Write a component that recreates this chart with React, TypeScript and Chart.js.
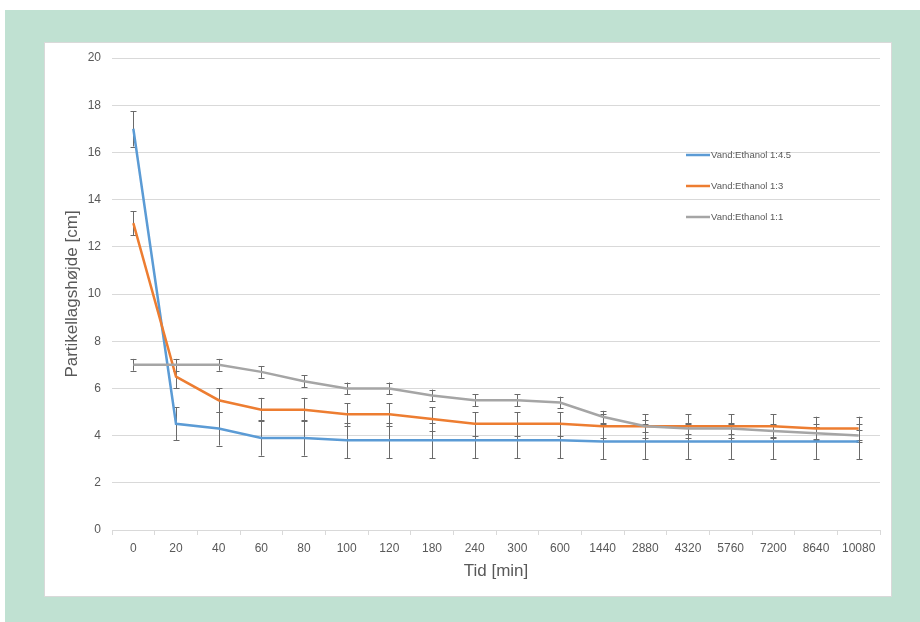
import { useEffect, useRef } from "react";
import { Chart, registerables } from "chart.js";

Chart.register(...registerables);

const categories = ["0", "20", "40", "60", "80", "100", "120", "180", "240", "300", "600", "1440", "2880", "4320", "5760", "7200", "8640", "10080"];

const labelA = "Vand:Ethanol 1:4.5";
const labelB = "Vand:Ethanol 1:3";
const labelC = "Vand:Ethanol 1:1";

const valuesA = [17.0, 4.5, 4.3, 3.9, 3.9, 3.8, 3.8, 3.8, 3.8, 3.8, 3.8, 3.75, 3.75, 3.75, 3.75, 3.75, 3.75, 3.75];
const valuesB = [13.0, 6.5, 5.5, 5.1, 5.1, 4.9, 4.9, 4.7, 4.5, 4.5, 4.5, 4.4, 4.4, 4.4, 4.4, 4.4, 4.3, 4.3];
const valuesC = [7.0, 7.0, 7.0, 6.7, 6.3, 6.0, 6.0, 5.7, 5.5, 5.5, 5.4, 4.8, 4.4, 4.3, 4.3, 4.2, 4.1, 4.0];

const errorsA = [0.75, 0.7, 0.72, 0.75, 0.75, 0.75, 0.75, 0.75, 0.75, 0.75, 0.75, 0.75, 0.75, 0.75, 0.75, 0.75, 0.75, 0.75];
const errorsB = [0.5, 0.5, 0.5, 0.5, 0.5, 0.48, 0.48, 0.5, 0.5, 0.5, 0.5, 0.5, 0.5, 0.5, 0.5, 0.5, 0.5, 0.5];
const errorsC = [0.25, 0.25, 0.25, 0.25, 0.25, 0.25, 0.25, 0.25, 0.25, 0.25, 0.25, 0.25, 0.25, 0.25, 0.25, 0.25, 0.25, 0.25];

const yTicks = [0, 2, 4, 6, 8, 10, 12, 14, 16, 18, 20];

const colorA = "#5b9bd5";
const colorB = "#ed7d31";
const colorC = "#a5a5a5";
const textColor = "#595959";
const gridColor = "#d9d9d9";
const FONT = "'Liberation Sans', Arial, sans-serif";

const errorBarPlugin = {
  id: "errorBars",
  beforeDatasetsDraw(chart: any) {
    const ctx = chart.ctx;
    const xs = chart.scales.x;
    const ys = chart.scales.y;
    ctx.save();
    ctx.strokeStyle = "#6a6a6a";
    ctx.lineWidth = 1;
    chart.data.datasets.forEach((ds: any) => {
      const errs: number[] = ds.errors || [];
      ds.data.forEach((v: number, i: number) => {
        const e = errs[i];
        if (e == null) return;
        const x = Math.round(xs.getPixelForValue(i)) + 0.5;
        const y1 = ys.getPixelForValue(v + e);
        const y2 = ys.getPixelForValue(v - e);
        ctx.beginPath();
        ctx.moveTo(x, y1);
        ctx.lineTo(x, y2);
        ctx.moveTo(x - 3, Math.round(y1) + 0.5);
        ctx.lineTo(x + 3, Math.round(y1) + 0.5);
        ctx.moveTo(x - 3, Math.round(y2) + 0.5);
        ctx.lineTo(x + 3, Math.round(y2) + 0.5);
        ctx.stroke();
      });
    });
    ctx.restore();
  },
};

const legendPlugin = {
  id: "insideLegend",
  afterDatasetsDraw(chart: any) {
    const ctx = chart.ctx;
    const area = chart.chartArea;
    const x0 = area.right - 194;
    const y0 = area.bottom - 375;
    const gap = 31;
    ctx.save();
    ctx.font = `9.5px ${FONT}`;
    ctx.textBaseline = "middle";
    ctx.textAlign = "left";
    chart.data.datasets.forEach((ds: any, i: number) => {
      const y = y0 + i * gap;
      ctx.strokeStyle = ds.borderColor;
      ctx.lineWidth = 2.5;
      ctx.beginPath();
      ctx.moveTo(x0, y);
      ctx.lineTo(x0 + 24, y);
      ctx.stroke();
      ctx.fillStyle = textColor;
      ctx.fillText(ds.label, x0 + 25, y);
    });
    ctx.restore();
  },
};

export default function App() {
  const canvasRef = useRef<HTMLCanvasElement | null>(null);

  useEffect(() => {
    if (!canvasRef.current) return;
    const chart = new Chart(canvasRef.current, {
      type: "line",
      data: {
        labels: categories,
        datasets: [
          { label: labelA, data: valuesA, errors: errorsA, borderColor: colorA, backgroundColor: colorA, borderWidth: 2.5, pointRadius: 0, tension: 0, order: 2 } as any,
          { label: labelB, data: valuesB, errors: errorsB, borderColor: colorB, backgroundColor: colorB, borderWidth: 2.5, pointRadius: 0, tension: 0, order: 1 } as any,
          { label: labelC, data: valuesC, errors: errorsC, borderColor: colorC, backgroundColor: colorC, borderWidth: 2.5, pointRadius: 0, tension: 0, order: 0 } as any,
        ],
      },
      options: {
        animation: false,
        responsive: false,
        maintainAspectRatio: false,
        layout: { padding: { top: 15, right: 11, bottom: 0, left: 0 } },
        plugins: {
          legend: { display: false },
          tooltip: { enabled: false },
        },
        scales: {
          x: {
            type: "category",
            offset: true,
            grid: { display: true, drawOnChartArea: false, drawTicks: true, tickLength: 5, offset: true, color: gridColor },
            border: { display: true, color: gridColor },
            ticks: { color: textColor, font: { family: FONT, size: 12 }, padding: 6, maxRotation: 0, autoSkip: false },
            title: { display: true, text: "Tid [min]", color: textColor, font: { family: FONT, size: 17 }, padding: { top: 0, bottom: 14 } },
            afterFit(scale: any) { scale.height = 66; scale.paddingLeft = 0; scale.paddingRight = 0; },
          },
          y: {
            min: 0,
            max: 20,
            afterBuildTicks(scale: any) { scale.ticks = yTicks.map((v) => ({ value: v })); },
            grid: { color: gridColor, drawTicks: false },
            border: { display: false },
            ticks: { color: textColor, font: { family: FONT, size: 12 }, padding: 11 },
            title: { display: true, text: "Partikellagshøjde [cm]", color: textColor, font: { family: FONT, size: 17 }, padding: { top: 17, bottom: 0 } },
            afterFit(scale: any) { scale.width = 67; scale.paddingTop = 0; scale.paddingBottom = 0; },
          },
        },
      } as any,
      plugins: [errorBarPlugin, legendPlugin],
    });
    return () => chart.destroy();
  }, []);

  return (
    <div style={{ position: "absolute", left: 0, top: 0, width: 920, height: 622, background: "#ffffff", overflow: "hidden" }}>
      <div style={{ position: "absolute", left: 5, top: 10, width: 915, height: 612, background: "#c0e1d2" }} />
      <div style={{ position: "absolute", left: 45, top: 43, width: 846, height: 553, background: "#ffffff", boxShadow: "0 0 0 1px #d9d9d9" }}>
        <canvas ref={canvasRef} width={846} height={553} style={{ display: "block", width: 846, height: 553 }} />
      </div>
    </div>
  );
}
